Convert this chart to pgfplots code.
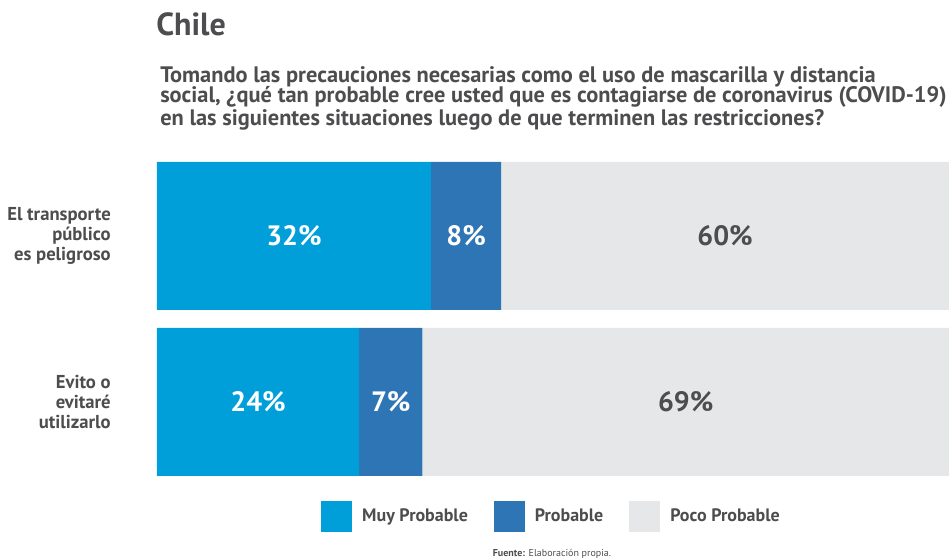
\documentclass[border=0pt]{standalone}
\usepackage{pgfplots}
\pgfplotsset{compat=1.18}
\usepackage{fontspec}
\setmainfont{PT Sans}
\definecolor{txt}{HTML}{4D4D4F}
\definecolor{c1}{HTML}{009FDA}
\definecolor{c2}{HTML}{2E75B6}
\definecolor{c3}{HTML}{E6E7E8}
\begin{document}
\begin{tikzpicture}
\begin{scope}[x=0.75pt,y=0.75pt]
\useasboundingbox (0,0) rectangle (949,560);
\node[anchor=base west, inner sep=0pt, font=\bfseries\fontsize{24}{26}\selectfont, text=txt] at (156,524) {Chile};
\node[anchor=north west, inner sep=0pt, align=left, font=\bfseries\fontsize{16.8}{15.6}\selectfont, text=txt] at (160,494)
{Tomando las precauciones necesarias como el uso de mascarilla y distancia\\
social, ¿qué tan probable cree usted que es contagiarse de coronavirus (COVID-19)\\
en las siguientes situaciones luego de que terminen las restricciones?};
\node[anchor=base, inner sep=0pt, text=txt, font=\fontsize{7.5}{9}\selectfont] at (552,3) {\textbf{Fuente:} Elaboración propia.};
\end{scope}
\begin{axis}[at={(117.75pt,63pt)}, anchor=south west, scale only axis,
  width=594pt, height=235.5pt,
  xbar stacked, xmin=0, xmax=92.5, ymin=0, ymax=314, bar width=148,
  axis x line=none, axis y line*=left, y axis line style={draw=none},
  ytick={74,240}, yticklabels={{Evito o\\evitaré\\utilizarlo},{El transporte\\público\\es peligroso}},
  major tick length=0pt,
  yticklabel style={align=right, inner sep=0pt, xshift=-34.5pt, text=txt, font=\bfseries\fontsize{14}{15}\selectfont},
  legend columns=3,
  legend image code/.code={\fill[#1] (0pt,-11.6pt) rectangle (23.25pt,11.6pt);},
  legend style={at={(0.4985,-0.129)}, anchor=center, draw=none, fill=none,
    font=\bfseries\fontsize{13.5}{16}\selectfont, text=txt,
    /tikz/every odd column/.append style={column sep=5.5pt},
    /tikz/every even column/.append style={column sep=17.5pt}},
]
\addplot[fill=c1, draw=none] coordinates {(32,240) (23.6,74)};
\addplot[fill=c2, draw=none] coordinates {(8.2,240) (7.4,74)};
\addplot[fill=c3, draw=none] coordinates {(59.8,240) (69,74)};
\legend{Muy Probable, Probable, Poco Probable}
\end{axis}
\begin{axis}[at={(117.75pt,63pt)}, anchor=south west, scale only axis,
  width=594pt, height=235.5pt, hide axis,
  xmin=0, xmax=92.5, ymin=0, ymax=314, clip=false,
  nodes near coords, point meta=explicit symbolic,
  every node near coord/.append style={anchor=center, font=\bfseries\fontsize{21}{24}\selectfont},
]
% label positions: centre of each visible segment
\addplot[draw=none, mark=none, nodes near coords style={text=white}] coordinates {(16,240) [32\%] (36.1,240) [8\%] (11.8,74) [24\%] (27.3,74) [7\%]};
\addplot[draw=none, mark=none, nodes near coords style={text=txt}] coordinates {(66.35,240) [60\%] (61.75,74) [69\%]};
\end{axis}
\end{tikzpicture}
\end{document}
